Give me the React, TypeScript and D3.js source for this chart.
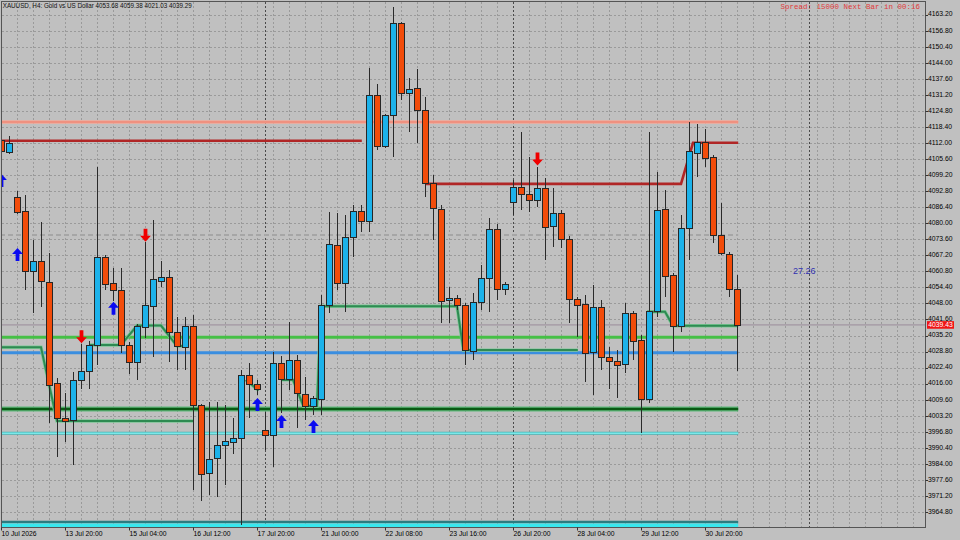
import React, { useEffect } from 'react';
import * as d3 from 'd3';

// H4 bars, oldest first (XAUUSD)
const opens = [
  4113.2, 4108.3, 4090.3, 4084.6, 4060.9, 4064.9, 4056.4, 4016.1, 4002.2, 4001.2,
  4017.1, 4020.8, 4031.1, 4066.4, 4056.0, 4053.2, 4031.4, 4024.4, 4038.5, 4046.7,
  4056.8, 4058.2, 4036.5, 4030.5, 4038.7, 4007.1, 3980.2, 3986.2, 3991.5, 3992.6,
  3994.2, 4019.4, 4015.5, 3997.5, 3995.5, 4024.1, 4017.5, 4025.2, 4011.7, 4006.8,
  4009.8, 4047.0, 4071.3, 4056.0, 4074.4, 4084.6, 4080.6, 4130.9, 4110.8, 4122.8,
  4159.5, 4131.8, 4133.8, 4124.8, 4095.7, 4085.6, 4049.0, 4050.1, 4047.0, 4028.9,
  4048.5, 4058.0, 4077.6, 4053.6, 4088.4, 4094.3, 4091.3, 4089.0, 4093.9, 4078.6,
  4083.7, 4073.6, 4049.4, 4047.4, 4028.3, 4046.5, 4026.5, 4024.8, 4023.8, 4043.8,
  4033.4, 4009.8, 4044.7, 4085.3, 4059.0, 4038.7, 4078.0, 4107.9, 4112.3, 4106.3,
  4075.0, 4067.7, 4053.68,
];
const highs = [
  4114.0, 4114.8, 4093.0, 4091.3, 4073.3, 4080.6, 4068.0, 4018.1, 4012.3, 4020.8,
  4031.8, 4033.0, 4102.6, 4067.3, 4062.0, 4062.1, 4032.6, 4039.8, 4072.5, 4081.3,
  4064.9, 4061.3, 4042.7, 4042.7, 4043.4, 4007.9, 4008.8, 4008.8, 4007.5, 4002.2,
  4021.4, 4024.1, 4017.5, 4004.7, 4028.6, 4027.0, 4040.6, 4027.4, 4018.8, 4011.1,
  4051.4, 4084.5, 4084.1, 4083.3, 4087.3, 4087.3, 4141.8, 4135.4, 4123.6, 4166.4,
  4160.3, 4137.8, 4141.4, 4130.5, 4099.2, 4087.3, 4054.4, 4051.4, 4048.2, 4052.0,
  4063.3, 4082.0, 4079.7, 4056.6, 4097.3, 4116.5, 4106.5, 4102.4, 4097.9, 4093.9,
  4085.3, 4074.9, 4050.6, 4051.4, 4055.4, 4049.4, 4030.7, 4029.4, 4048.1, 4045.0,
  4035.4, 4116.5, 4100.6, 4093.3, 4060.0, 4083.3, 4120.5, 4119.6, 4117.5, 4107.2,
  4088.0, 4068.5, 4059.38,
];
const lows = [
  4108.0, 4107.8, 4083.7, 4053.4, 4044.2, 4046.7, 4000.3, 3986.6, 3992.8, 3983.5,
  4013.9, 4013.9, 4023.4, 4053.4, 4049.0, 4028.2, 4019.8, 4017.5, 4034.2, 4026.8,
  4054.7, 4024.6, 4021.4, 4021.4, 3973.6, 3969.3, 3971.6, 3970.9, 3975.6, 3987.9,
  3959.6, 4002.2, 4011.5, 3989.5, 3982.9, 4004.3, 4013.5, 3998.2, 4001.5, 4003.5,
  4003.5, 4044.1, 4053.4, 4044.7, 4066.7, 4076.6, 4076.6, 4109.2, 4110.0, 4106.5,
  4129.2, 4116.5, 4112.1, 4090.6, 4073.3, 4040.1, 4040.1, 4045.4, 4023.4, 4025.4,
  4045.4, 4044.7, 4049.4, 4051.4, 4083.3, 4085.3, 4084.6, 4086.6, 4065.3, 4070.6,
  4070.0, 4040.3, 4034.7, 4016.8, 4011.5, 4021.4, 4013.7, 4010.2, 4020.1, 4025.4,
  3996.2, 4008.2, 4042.7, 4050.7, 4028.7, 4036.7, 4065.3, 4098.6, 4102.6, 4072.0,
  4067.3, 4050.7, 4021.03,
];
const closes = [
  4108.5, 4111.9, 4084.4, 4060.9, 4064.9, 4056.7, 4015.1, 4002.2, 4000.8, 4017.1,
  4021.0, 4031.4, 4066.4, 4055.6, 4053.2, 4031.4, 4024.4, 4038.7, 4047.0, 4057.4,
  4058.2, 4036.5, 4030.7, 4038.7, 4007.1, 3979.8, 3985.9, 3991.5, 3992.8, 3994.2,
  4019.4, 4015.5, 4013.5, 3995.5, 4024.1, 4017.5, 4025.2, 4011.9, 4006.8, 4010.2,
  4047.0, 4071.6, 4056.0, 4074.4, 4084.6, 4080.6, 4130.9, 4110.8, 4122.8, 4159.5,
  4131.8, 4133.4, 4124.8, 4095.9, 4086.0, 4048.7, 4050.1, 4047.0, 4029.4, 4048.5,
  4058.0, 4077.6, 4053.6, 4055.6, 4094.3, 4091.3, 4089.0, 4093.9, 4078.4, 4083.7,
  4073.6, 4049.4, 4047.1, 4028.1, 4046.5, 4026.5, 4024.8, 4023.4, 4043.8, 4032.7,
  4009.8, 4044.7, 4084.9, 4058.7, 4038.7, 4078.0, 4108.5, 4112.3, 4105.9, 4075.3,
  4068.0, 4053.6, 4039.29,
];

const priceTicks = [
  4163.2, 4156.8, 4150.4, 4144.0, 4137.6, 4131.2, 4124.8, 4118.4, 4112.0, 4105.6,
  4099.2, 4092.8, 4086.4, 4080.0, 4073.6, 4067.2, 4060.8, 4054.4, 4048.0, 4041.6,
  4035.2, 4028.8, 4022.4, 4016.0, 4009.6, 4003.2, 3996.8, 3990.4, 3984.0, 3977.6,
  3971.2, 3964.8,
];
const timeLabels = [
  '10 Jul 2026', '13 Jul 20:00', '15 Jul 04:00', '16 Jul 12:00', '17 Jul 20:00', '21 Jul 00:00',
  '22 Jul 08:00', '23 Jul 16:00', '26 Jul 20:00', '28 Jul 04:00', '29 Jul 12:00', '30 Jul 20:00',
];
const timeLabelBars = [0, 8, 16, 24, 32, 40, 48, 56, 64, 72, 80, 88];
const separatorBars = [33, 64, 101];

// levels drawn across the history
const salmonLevel = 4120.4;
const dashedLevel = 4075.3;
const greenLevel = 4034.5;
const blueLevel = 4028.3;
const darkGreenLevel = 4005.9;
const cyanLevel = 3996.2;
const bottomTeal = 3960.8;
const bottomCyan = 3959.4;
const bidPrice = 4039.43;

// stepped resistance (bar, price)
const resistanceSegments: [number, number][][] = [
  [[-1, 4112.9], [45.1, 4112.9]],
  [[53, 4095.7], [85, 4095.7], [86.5, 4112.1], [92.15, 4112.1]],
];
// stepped trailing line (bar, price)
const trailSegments: [number, number][][] = [
  [[-1, 4030.5], [5, 4030.5], [7, 4001.1], [24, 4001.1]],
  [[11, 4031.4], [15, 4031.4], [17, 4039.2], [20, 4039.2], [22, 4031.0], [23.5, 4031.0]],
  [[30.6, 4017.5], [32.2, 4013.3]],
  [[35, 4017.5], [36.5, 4017.5], [37.8, 4007.1], [39.5, 4007.1], [40, 4046.9], [57, 4046.9], [57.8, 4029.4], [72.1, 4029.4]],
  [[80.75, 4044.7], [83, 4044.7], [84, 4039.1], [92.15, 4039.1]],
];

const upArrowBars = [0, 2, 14, 32, 35, 39];
const upArrowPrices = [4099.6, 4070.1, 4048.7, 4010.3, 4003.5, 4001.5];
const downArrowBars = [10, 18, 67];
const downArrowPrices = [4032.1, 4072.6, 4103.0];

const rangeLabel = '27.26';
const rangeLabelBar = 99;
const rangeLabelPrice = 4061.0;

const header = 'XAUUSD, H4:  Gold vs US Dollar  4053.68 4059.38 4021.03 4039.29';
const spreadText = 'Spread: 15000 Next Bar in 00:16';

const W = 960;
const H = 540;
const P = { left: 1.5, top: 1.5, right: 925.5, bottom: 527.5 };
const FONT = '"Liberation Sans", Arial, sans-serif';

const App: React.FC = () => {
  useEffect(() => {
    document.body.style.margin = '0';
  }, []);

  const x = d3.scaleLinear().domain([0, 115.5]).range([1, 925]);
  const y = d3.scaleLinear().domain([3964.8, 4163.2]).range([512, 14.7]);
  const lastX = x(92.15);
  const line = d3.line<[number, number]>().x(d => x(d[0])).y(d => y(d[1]));

  const gridBars = d3.range(2, 116, 2);

  // thick wingdings-like arrows, tip at origin
  const upPath = 'M0,0 L5.4,6 L1.9,6 L1.9,13 L-1.9,13 L-1.9,6 L-5.4,6 Z';
  const downPath = 'M0,0 L5.4,-6 L1.9,-6 L1.9,-13 L-1.9,-13 L-1.9,-6 L-5.4,-6 Z';

  const hLine = (price: number, stroke: string, width: number, extra: any = {}) => (
    <line x1={0} x2={lastX} y1={y(price)} y2={y(price)} stroke={stroke} strokeWidth={width} {...extra} />
  );

  return (
    <svg width={W} height={H} style={{ display: 'block', background: '#c0c0c0' }}>
      <defs>
        <clipPath id="plotClip">
          <rect x={P.left} y={P.top} width={P.right - P.left} height={P.bottom - P.top} />
        </clipPath>
      </defs>

      {/* grid */}
      <g stroke="#9a9a9a" strokeWidth={1} strokeDasharray="2 2" shapeRendering="crispEdges">
        {priceTicks.map(p => (
          <line key={'h' + p} x1={P.left} x2={P.right} y1={Math.round(y(p)) + 0.5} y2={Math.round(y(p)) + 0.5} />
        ))}
        {gridBars.map(b => (
          <line key={'v' + b} x1={x(b) + 0.5} x2={x(b) + 0.5} y1={P.top} y2={P.bottom} />
        ))}
      </g>
      <g stroke="#4a4a4a" strokeWidth={1} strokeDasharray="2 2" shapeRendering="crispEdges">
        {separatorBars.map(b => (
          <line key={'s' + b} x1={x(b) + 0.5} x2={x(b) + 0.5} y1={P.top} y2={P.bottom} />
        ))}
      </g>

      <g clipPath="url(#plotClip)">
        {/* bid line */}
        <line x1={P.left} x2={P.right} y1={y(bidPrice)} y2={y(bidPrice)} stroke="#9a8c9a" strokeWidth={1} />
        {hLine(dashedLevel, '#a6a6a6', 2, { strokeDasharray: '5 3' })}
        {hLine(salmonLevel, '#f4a898', 3.4)}
        {hLine(salmonLevel, '#ee8a78', 1.6)}
        {hLine(greenLevel, '#46c046', 3)}
        {hLine(blueLevel, '#3a8ee0', 3)}
        {hLine(darkGreenLevel, '#5fb87a', 5)}
        {hLine(darkGreenLevel, '#0a5a14', 2.4)}
        {hLine(cyanLevel, '#48b4b4', 3)}
        {hLine(cyanLevel, '#7ae8ea', 1.4)}
        {hLine(bottomTeal, '#2a7c80', 2.6)}
        {hLine(bottomCyan, '#38e8ee', 4)}

        {resistanceSegments.map((s, i) => (
          <path key={'r' + i} d={line(s) || ''} fill="none" stroke="#b02626" strokeWidth={2.6} />
        ))}
        {trailSegments.map((s, i) => (
          <g key={'t' + i}>
            <path d={line(s) || ''} fill="none" stroke="#7cc896" strokeWidth={3.4} />
            <path d={line(s) || ''} fill="none" stroke="#2e8a52" strokeWidth={2} />
          </g>
        ))}

        {/* candles */}
        <g shapeRendering="crispEdges">
          {opens.map((o, i) => {
            const c = closes[i];
            const cx = x(i);
            const top = y(Math.max(o, c));
            const bot = y(Math.min(o, c));
            const bull = c >= o;
            return (
              <g key={'c' + i}>
                <line x1={cx + 0.5} x2={cx + 0.5} y1={y(highs[i])} y2={y(lows[i])} stroke="#2a2a2a" strokeWidth={1} />
                <rect
                  x={cx - 2.5}
                  y={top}
                  width={6}
                  height={Math.max(bot - top, 1)}
                  fill={bull ? '#1cb2ea' : '#f24c0a'}
                  stroke="#262626"
                  strokeWidth={1}
                />
              </g>
            );
          })}
        </g>

        {upArrowBars.map((b, i) => (
          <path key={'u' + i} d={upPath} transform={`translate(${x(b) + 0.5},${y(upArrowPrices[i])})`} fill="#0b0bf0" />
        ))}
        {downArrowBars.map((b, i) => (
          <path key={'d' + i} d={downPath} transform={`translate(${x(b) + 0.5},${y(downArrowPrices[i])})`} fill="#f00000" />
        ))}

        <text x={x(rangeLabelBar)} y={y(rangeLabelPrice) + 3.5} fontFamily={FONT} fontSize={9} fill="#3030b0">
          {rangeLabel}
        </text>
      </g>

      {/* frame */}
      <rect x={P.left} y={P.top} width={P.right - P.left} height={P.bottom - P.top} fill="none" stroke="#555" strokeWidth={1} shapeRendering="crispEdges" />

      {/* price axis */}
      <g fontFamily={FONT} fontSize={6.8} fill="#000">
        {priceTicks.map(p => (
          <g key={'pt' + p}>
            <line x1={P.right} x2={P.right + 2.5} y1={Math.round(y(p)) + 0.5} y2={Math.round(y(p)) + 0.5} stroke="#333" />
            <text x={928} y={y(p)} dominantBaseline="middle">{p.toFixed(2)}</text>
          </g>
        ))}
      </g>
      <rect x={927} y={y(bidPrice) - 3.8} width={27} height={7.6} fill="#f01414" />
      <text x={940.5} y={y(bidPrice)} dominantBaseline="middle" textAnchor="middle" fontFamily={FONT} fontSize={6.8} fill="#fff">
        {bidPrice.toFixed(2)}
      </text>

      {/* time axis */}
      <g fontFamily={FONT} fontSize={6.8} fill="#000">
        {timeLabels.map((t, i) => (
          <g key={'tl' + i}>
            <line x1={x(timeLabelBars[i]) + 0.5} x2={x(timeLabelBars[i]) + 0.5} y1={P.bottom} y2={P.bottom + 3} stroke="#333" />
            <text x={x(timeLabelBars[i]) + 0.5} y={536}>{t}</text>
          </g>
        ))}
      </g>

      <text x={2.7} y={8.3} fontFamily={FONT} fontSize={6.8} fill="#111" textLength={189} lengthAdjust="spacingAndGlyphs">
        {header}
      </text>
      <text x={920} y={9} textAnchor="end" fontFamily='"Liberation Mono", "Courier New", monospace' fontSize={7.5} fill="#e03c3c">
        {spreadText}
      </text>
    </svg>
  );
};

export default App;
